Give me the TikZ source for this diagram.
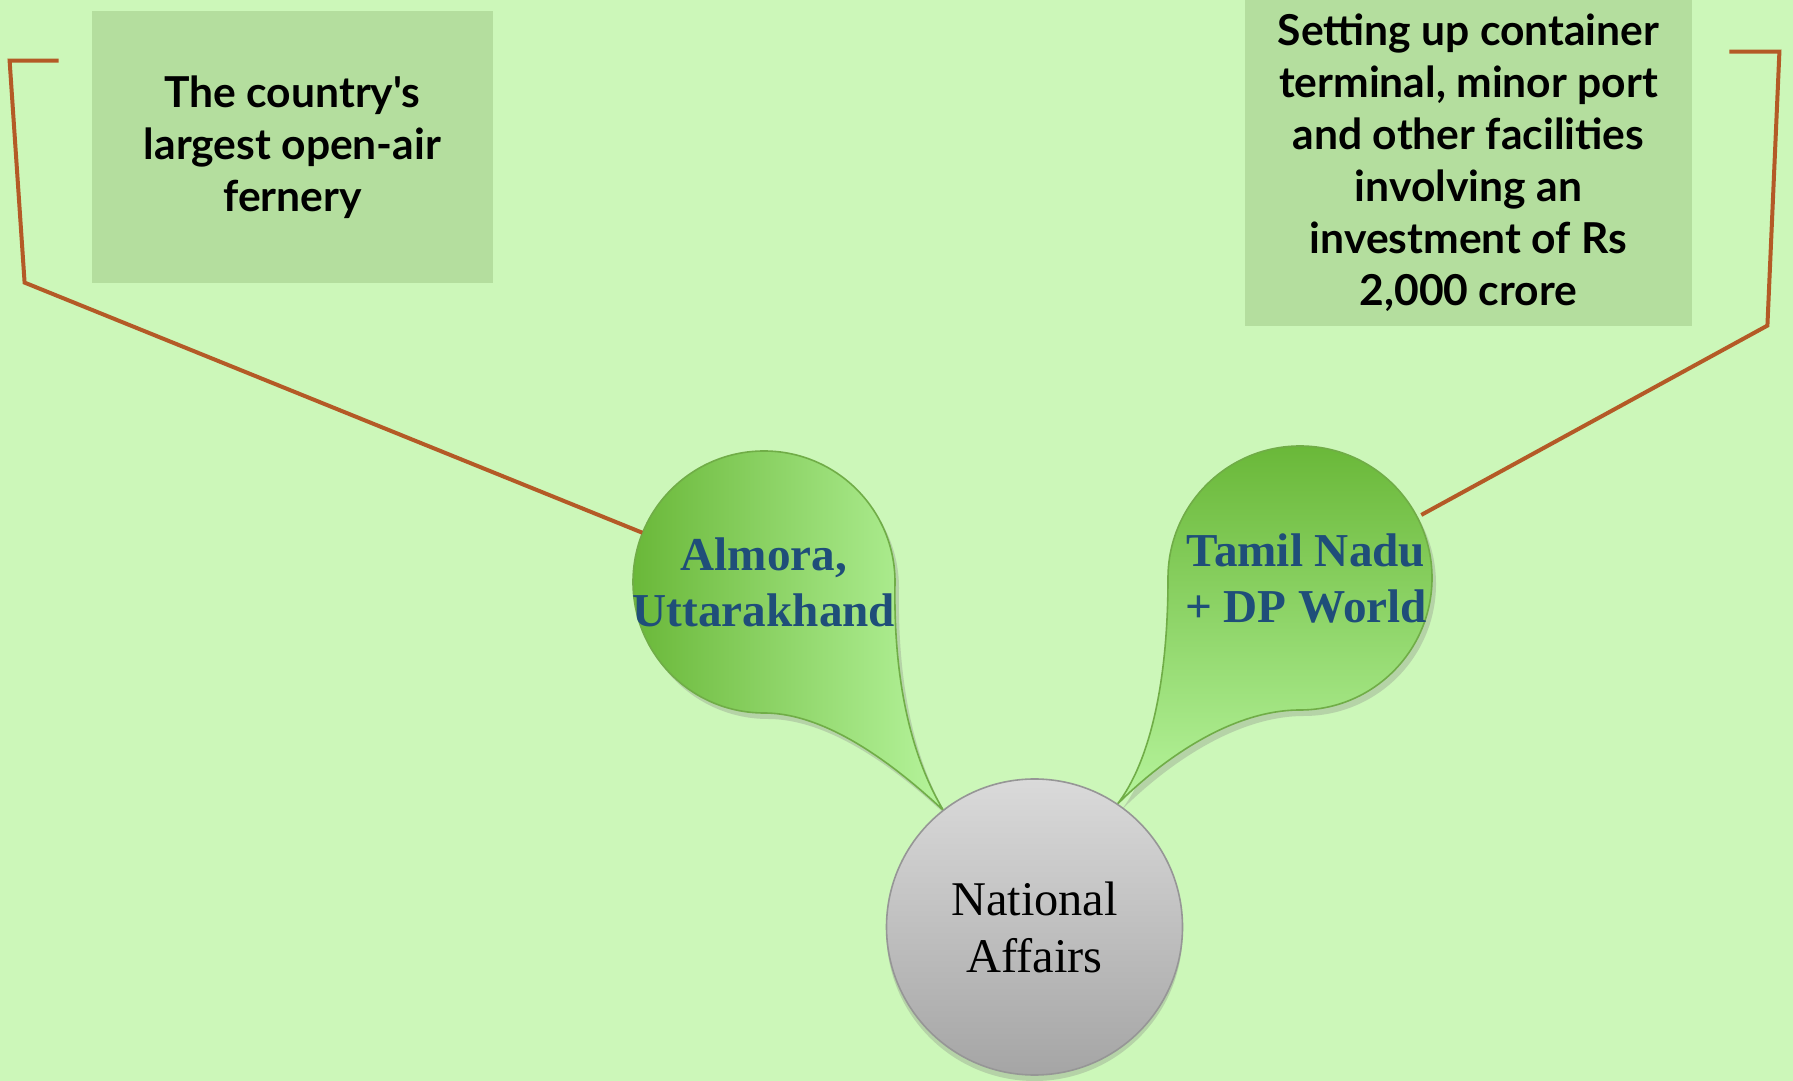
\documentclass[tikz,border=0pt]{standalone}
\usepackage{fontspec}
\setmainfont{Liberation Serif}
\newfontfamily\notefont{Lato}
\usetikzlibrary{shadows}

\definecolor{bgcol}{RGB}{204,247,185}
\definecolor{notecol}{RGB}{180,222,158}
\definecolor{linkcol}{RGB}{180,90,38}
\definecolor{leafdark}{RGB}{106,184,57}
\definecolor{leaflight}{RGB}{182,244,156}
\definecolor{leafedge}{RGB}{112,173,71}
\definecolor{leaftext}{RGB}{31,78,121}
\definecolor{hubtop}{RGB}{218,218,218}
\definecolor{hubbottom}{RGB}{165,165,165}
\definecolor{hubedge}{RGB}{150,150,150}

\begin{document}
\begin{tikzpicture}[x=0.5pt, y=0.5pt,
    note/.style={fill=notecol, inner sep=0pt, align=center,
        font=\notefont\bfseries\fontsize{21.3}{26}\selectfont},
    leaf/.style={circle, minimum size=131pt, inner sep=-10pt, align=center,
        text=leaftext, font=\bfseries\fontsize{23.6}{28}\selectfont},
    leafbody/.style={draw=leafedge, line width=0.8pt,
        drop shadow={opacity=0.3, shadow xshift=2pt, shadow yshift=-3pt}},
    hub/.style={circle, draw=hubedge, line width=0.8pt, top color=hubtop,
        bottom color=hubbottom, minimum size=148pt, inner sep=0pt, align=center,
        font=\fontsize{24.2}{28.5}\selectfont,
        drop shadow={opacity=0.3, shadow xshift=0pt, shadow yshift=-3pt}},
    bracket/.style={draw=linkcol, line width=2pt}]

    % Background
    \fill[bgcol] (0,0) rectangle (1793,1081);
    \useasboundingbox (0,0) rectangle (1793,1081);

    % Notes
    \node[note, minimum width=200.5pt, minimum height=136pt] (lnote) at (292.5,934)
        {The country's\\largest open-air\\fernery};
    \node[note, minimum width=223.5pt, minimum height=163pt] (rnote) at (1468.5,918)
        {Setting up container\\terminal, minor port\\and other facilities\\involving an\\investment of Rs\\2,000 crore};

    % Centres
    \coordinate (natc) at (1034.5,154);
    \coordinate (almc) at (764,499);
    \coordinate (tamc) at (1300,503);

    % Leaves, tip on the hub
    \path[leafbody, left color=leafdark, right color=leaflight]
        ([shift={(128:148)}]natc) .. controls +(-43,40) and +(66,0) .. ([shift={(0,-131)}]almc)
        arc[start angle=-90, end angle=-360, radius=131]
        .. controls +(-2,-109) and +(-28,47) .. ([shift={(128:148)}]natc) -- cycle;
    \path[leafbody, top color=leafdark, bottom color=leaflight]
        ([shift={(56:148)}]natc) .. controls +(43,43) and +(-70,0) .. ([shift={(0,-132)}]tamc)
        arc[start angle=-90, end angle=180, radius=132]
        .. controls +(0,-103) and +(33,43) .. ([shift={(56:148)}]natc) -- cycle;

    \node[leaf] (alm) at (almc) {Almora,\\Uttarakhand};
    \node[leaf, xshift=3pt] (tam) at (tamc) {Tamil Nadu\\+ DP World};
    \node[hub] (nat) at (natc) {National\\Affairs};

    % Brackets
    \draw[bracket] ([shift={(-33,-50)}]lnote.north west) -- ++(-49,0) -- ++(15,-222) -- (alm);
    \draw[bracket] ([shift={(37,-52)}]rnote.north east) -- ++(50,0) -- ++(-12,-274) -- (tam);

\end{tikzpicture}
\end{document}
